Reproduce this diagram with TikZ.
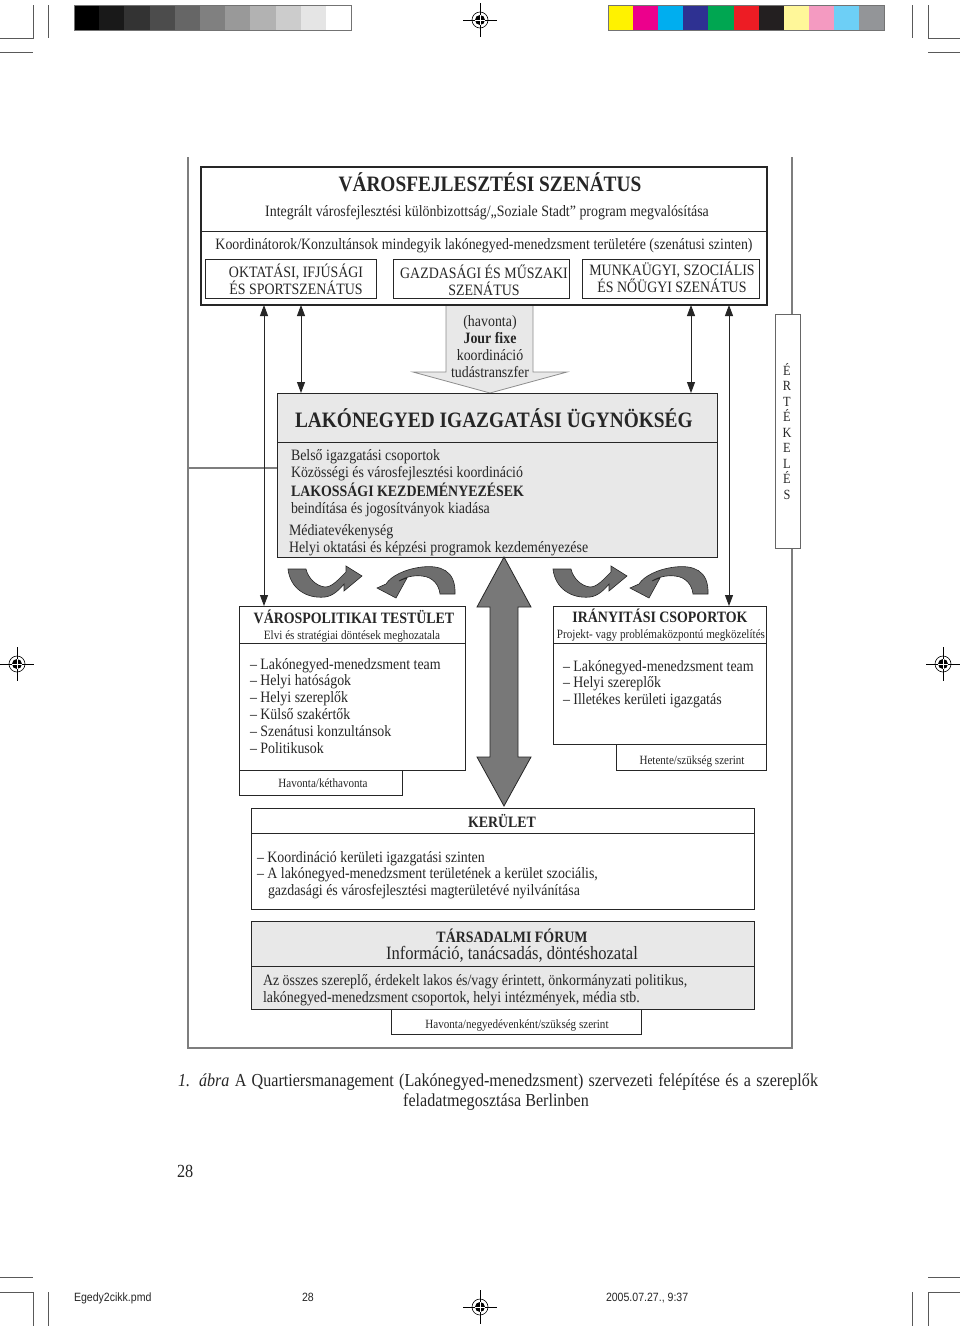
\documentclass[tikz,border=0pt]{standalone}
\usepackage{fontspec}
\setmainfont{Liberation Serif}[FakeStretch=0.88]
\newfontfamily\footfont{Liberation Sans}[FakeStretch=0.88]
\usetikzlibrary{arrows.meta}
\newcommand\fsz[1]{\fontsize{#1}{#1}\selectfont}
\definecolor{frm}{HTML}{7E7E7E}
\definecolor{lg}{HTML}{E8E8E8}
\definecolor{ink}{HTML}{262626}
\definecolor{cu}{HTML}{6E6E6E}
\definecolor{cb0}{HTML}{FFF200}
\definecolor{cb1}{HTML}{EC008C}
\definecolor{cb2}{HTML}{00AEEF}
\definecolor{cb3}{HTML}{2E3192}
\definecolor{cb4}{HTML}{00A651}
\definecolor{cb5}{HTML}{ED1C24}
\definecolor{cb6}{HTML}{231F20}
\definecolor{cb7}{HTML}{FFF799}
\definecolor{cb8}{HTML}{F49AC1}
\definecolor{cb9}{HTML}{6DCFF6}
\definecolor{cb10}{HTML}{939598}
\newcommand\bxat[6][]{\node[bx,minimum width=#5pt,minimum height=#6pt,#1] (#2) at (#3,#4) {};}
\newcommand\regmark[2]{%
  \begin{scope}[shift={(#1,#2)}]
  \draw[line width=0.5pt] (-17,0)--(17,0) (0,-17)--(0,17);
  \draw[line width=0.6pt] (0,0) circle (8pt);
  \fill (0,0) circle (5pt);
  \draw[white,line width=0.6pt] (-5,0)--(5,0) (0,-5)--(0,5);
  \end{scope}}
\begin{document}
\begin{tikzpicture}[x=1pt,y=-1pt,
  bx/.style={draw=ink, line width=0.9pt, anchor=north west, inner sep=0pt, outer sep=0pt},
  dv/.style={draw=ink, line width=0.8pt},
  t/.style={inner sep=0pt, outer sep=0pt, text=ink, font=\fsz{15.8}},
  tb/.style={t, font=\bfseries\fsz{15.8}},
  ts/.style={t, font=\fsz{12.6}},
  frame/.style={draw=frm, line width=2.4pt},
  conn/.style={draw=ink, line width=0.9pt, {Triangle[width=8pt,length=11pt]}-{Triangle[width=8pt,length=11pt]}},
  cur/.style={fill=cu, draw=ink, line width=0.6pt},
  big/.style={fill=black!53, draw=ink, line width=0.8pt},
  jf/.style={fill=lg, draw=black!45, line width=0.8pt},
  crop/.style={draw=black!65, line width=0.6pt}]
\useasboundingbox[fill=white] (0,0) rectangle (960,1326);

% ---- printer marks ----
\foreach \i/\g in {0/100,1/90,2/80,3/70,4/60,5/50,6/40,7/30,8/20,9/10,10/0}
  \path[fill=black!\g] (74+25.2*\i,5) rectangle ++(25.2,25);
\draw[black!55,line width=0.8pt] (74,5) rectangle (351,30);
\foreach \i in {0,...,10}
  \path[fill=cb\i] (608+25.1*\i,5) rectangle ++(25.1,25);
\draw[black!55,line width=0.8pt] (608,5) rectangle (884,30);
\regmark{480}{20}
\regmark{17}{664}
\regmark{943}{664}
\regmark{480}{1307}
\draw[crop] (33,5)--(33,38)--(0,38) (48,5)--(48,38) (0,52)--(33,52);
\draw[crop] (912,5)--(912,38) (928,5)--(928,38)--(960,38) (928,52)--(960,52);
\draw[crop] (0,1277)--(33,1277) (0,1292)--(33,1292)--(33,1326) (48,1292)--(48,1326);
\draw[crop] (928,1277)--(960,1277) (960,1292)--(928,1292)--(928,1326) (912,1292)--(912,1326);

% ---- gray frame ----
\draw[frame] (188,157) -- (188,1048) -- (792,1048) -- (792,157);

% ---- Jour fixe block arrow (drawn before boxes) ----
\coordinate (jt) at (490,393);
\path[jf] (jt) -- ++(-77,-21) -- ++(33,0) -- ++(0,-67) -- ++(87,0) -- ++(0,67) -- ++(34,0) -- cycle;

% ---- boxes ----
\bxat[line width=2.4pt]{top}{201}{167}{566}{138}
\draw[dv] ([yshift=-64pt]top.north west) -- ([yshift=-64pt]top.north east);
\bxat{s1}{205}{259}{171}{39}
\bxat{s2}{393}{259}{176}{39}
\bxat{s3}{582}{259}{177}{39}

\bxat[fill=lg]{liu}{277}{393}{440}{164}
\draw[dv] ([yshift=-49pt]liu.north west) -- ([yshift=-49pt]liu.north east);

\bxat[fill=white,draw=black!60]{ert}{775}{314}{25}{234}

\bxat{vp}{239}{606}{226}{164}
\draw[dv] ([yshift=-37pt]vp.north west) -- ([yshift=-37pt]vp.north east);
\bxat{vps}{239}{770}{163}{25}

\bxat{ir}{553}{606}{213}{138}
\draw[dv] ([yshift=-37pt]ir.north west) -- ([yshift=-37pt]ir.north east);
\bxat{irs}{616}{744}{150}{26}

\bxat{ker}{251}{808}{503}{101}
\draw[dv] ([yshift=-25pt]ker.north west) -- ([yshift=-25pt]ker.north east);

\bxat[fill=lg]{tf}{251}{921}{503}{88}
\draw[dv] ([yshift=-45pt]tf.north west) -- ([yshift=-45pt]tf.north east);
\bxat{tfs}{391}{1009}{250}{25}

% ---- frame link to LIU ----
\coordinate (fl) at (188,468);
\draw[frame] (fl) -- (fl -| liu.west);

% ---- thin double arrows ----
\draw[conn] ([xshift=63pt]top.south west) -- ([xshift=63pt]top.south west |- vp.north);
\draw[conn] ([xshift=100pt]top.south west) -- ([xshift=100pt]top.south west |- liu.north);
\draw[conn] ([xshift=-76pt]top.south east) -- ([xshift=-76pt]top.south east |- liu.north);
\draw[conn] ([xshift=-38pt]top.south east) -- ([xshift=-38pt]top.south east |- ir.north);

% ---- big double arrow LIU <-> KERULET ----
\coordinate (dt) at ([xshift=7pt]liu.south);
\path[big] (dt) -- ++(27,50) -- ++(-13,0) -- ++(0,150) -- ++(13,0) -- ++(-27,49)
  -- ++(-27,-49) -- ++(13,0) -- ++(0,-150) -- ++(-13,0) -- cycle;

% ---- curved arrows ----
\foreach \dx/\ex in {0/0,265/253}{
\begin{scope}[shift={(\dx,0)}]
\path[cur] (288,569) .. controls (290,588) and (306,599) .. (325,597)
  .. controls (333,596) and (339,590) .. (344,584) -- (344,591) -- (362,576)
  -- (346,566) -- (346,572) .. controls (338,580) and (332,587) .. (325,587)
  .. controls (316,586) and (308,578) .. (306,569) -- cycle;
\end{scope}
\begin{scope}[shift={(\ex,0)}]
\path[cur] (455,594) .. controls (456,570) and (440,565) .. (422,567)
  .. controls (405,569) and (391,576) .. (386,584) -- (377,588) -- (396,598)
  -- (407,578) -- (399,581) .. controls (405,577) and (414,575) .. (422,576)
  .. controls (433,577) and (439,585) .. (440,594) -- cycle;
\end{scope}}

% ---- texts: top box ----
\node[t,font=\bfseries\fsz{22},anchor=base] (tt1) at (490,191) {VÁROSFEJLESZTÉSI SZENÁTUS};
\node[t,anchor=base] (tt2) at (487,216) {Integrált városfejlesztési különbizottság/„Soziale Stadt” program megvalósítása};
\node[t,anchor=base] (tt3) at (484,249) {Koordinátorok/Konzultánsok mindegyik lakónegyed-menedzsment területére (szenátusi szinten)};
\node[t,anchor=base] (s1a) at (296,277) {OKTATÁSI, IFJÚSÁGI};
\node[t,anchor=base] (s1b) at (296,294) {ÉS SPORTSZENÁTUS};
\node[t,anchor=base] (s2a) at (484,278) {GAZDASÁGI ÉS MŰSZAKI};
\node[t,anchor=base] (s2b) at (484,295) {SZENÁTUS};
\node[t,anchor=base] (s3a) at (672,275) {MUNKAÜGYI, SZOCIÁLIS};
\node[t,anchor=base] (s3b) at (672,292) {ÉS NŐÜGYI SZENÁTUS};

% ---- Jour fixe ----
\node[t,anchor=base] (j1) at (490,326) {(havonta)};
\node[tb,anchor=base] (j2) at (490,343) {Jour fixe};
\node[t,anchor=base] (j3) at (490,360) {koordináció};
\node[t,anchor=base] (j4) at (490,377) {tudástranszfer};

% ---- LIU ----
\node[t,font=\bfseries\fsz{22},anchor=base west] (l0) at (295,427) {LAKÓNEGYED IGAZGATÁSI ÜGYNÖKSÉG};
\node[t,anchor=base west] (l1) at (291,460) {Belső igazgatási csoportok};
\node[t,anchor=base west] (l2) at (291,477) {Közösségi és városfejlesztési koordináció};
\node[tb,anchor=base west] (l3) at (291,496) {LAKOSSÁGI KEZDEMÉNYEZÉSEK};
\node[t,anchor=base west] (l4) at (291,513) {beindítása és jogosítványok kiadása};
\node[t,anchor=base west] (l5) at (289,535) {Médiatevékenység};
\node[t,anchor=base west] (l6) at (289,552) {Helyi oktatási és képzési programok kezdeményezése};

% ---- ERTEKELES ----
\foreach \l [count=\i from 0] in {É,R,T,É,K,E,L,É,S}
  \node[t,font=\fsz{14},anchor=base] (e\i) at (787,375+15.5*\i) {\l};

% ---- Varospolitikai testulet ----
\node[tb,anchor=base] (v0) at (354,623) {VÁROSPOLITIKAI TESTÜLET};
\node[t,font=\fsz{12.7},anchor=base] (v1) at (352,639) {Elvi és stratégiai döntések meghozatala};
\node[t,anchor=base west] (v2) at (250,669) {– Lakónegyed-menedzsment team};
\node[t,anchor=base west] (v3) at (250,685) {– Helyi hatóságok};
\node[t,anchor=base west] (v4) at (250,702) {– Helyi szereplők};
\node[t,anchor=base west] (v5) at (250,719) {– Külső szakértők};
\node[t,anchor=base west] (v6) at (250,736) {– Szenátusi konzultánsok};
\node[t,anchor=base west] (v7) at (250,753) {– Politikusok};
\node[ts,anchor=base] (v8) at (323,787) {Havonta/kéthavonta};

% ---- Iranyitasi csoportok ----
\node[tb,anchor=base] (i0) at (660,622) {IRÁNYITÁSI CSOPORTOK};
\node[t,font=\fsz{12.65},anchor=base] (i1) at (661,638) {Projekt- vagy problémaközpontú megközelítés};
\node[t,anchor=base west] (i2) at (563,671) {– Lakónegyed-menedzsment team};
\node[t,anchor=base west] (i3) at (563,687) {– Helyi szereplők};
\node[t,anchor=base west] (i4) at (563,704) {– Illetékes kerületi igazgatás};
\node[ts,anchor=base] (i5) at (692,764) {Hetente/szükség szerint};

% ---- Kerulet ----
\node[tb,anchor=base] (k0) at (502,827) {KERÜLET};
\node[t,anchor=base west] (k1) at (257,862) {– Koordináció kerületi igazgatási szinten};
\node[t,anchor=base west] (k2) at (257,878) {– A lakónegyed-menedzsment területének a kerület szociális,};
\node[t,anchor=base west] (k3) at (268,895) {gazdasági és városfejlesztési magterületévé nyilvánítása};

% ---- Tarsadalmi forum ----
\node[tb,anchor=base] (f0) at (512,942) {TÁRSADALMI FÓRUM};
\node[t,font=\fsz{18.8},anchor=base] (f1) at (512,959) {Információ, tanácsadás, döntéshozatal};
\node[t,anchor=base west] (f2) at (263,985) {Az összes szereplő, érdekelt lakos és/vagy érintett, önkormányzati politikus,};
\node[t,anchor=base west] (f3) at (263,1002) {lakónegyed-menedzsment csoportok, helyi intézmények, média stb.};
\node[ts,anchor=base] (f4) at (517,1028) {Havonta/negyedévenként/szükség szerint};

% ---- caption ----
\node[t,font=\fsz{18.3},anchor=base west] (c1) at (178,1086)
  {\makebox[640pt][s]{\textit{1. ábra} A Quartiersmanagement (Lakónegyed-menedzsment) szervezeti felépítése és a szereplők}};
\node[t,font=\fsz{18.3},anchor=base] (c2) at (496,1106) {feladatmegosztása Berlinben};
\node[t,font=\fsz{18.5},anchor=base west] (pg) at (177,1177) {28};

% ---- footer ----
\node[t,font=\footfont\fsz{12},anchor=base west] (ft1) at (74,1301) {Egedy2cikk.pmd};
\node[t,font=\footfont\fsz{12},anchor=base west] (ft2) at (302,1301) {28};
\node[t,font=\footfont\fsz{12},anchor=base west] (ft3) at (606,1301) {2005.07.27., 9:37};
\end{tikzpicture}
\end{document}
